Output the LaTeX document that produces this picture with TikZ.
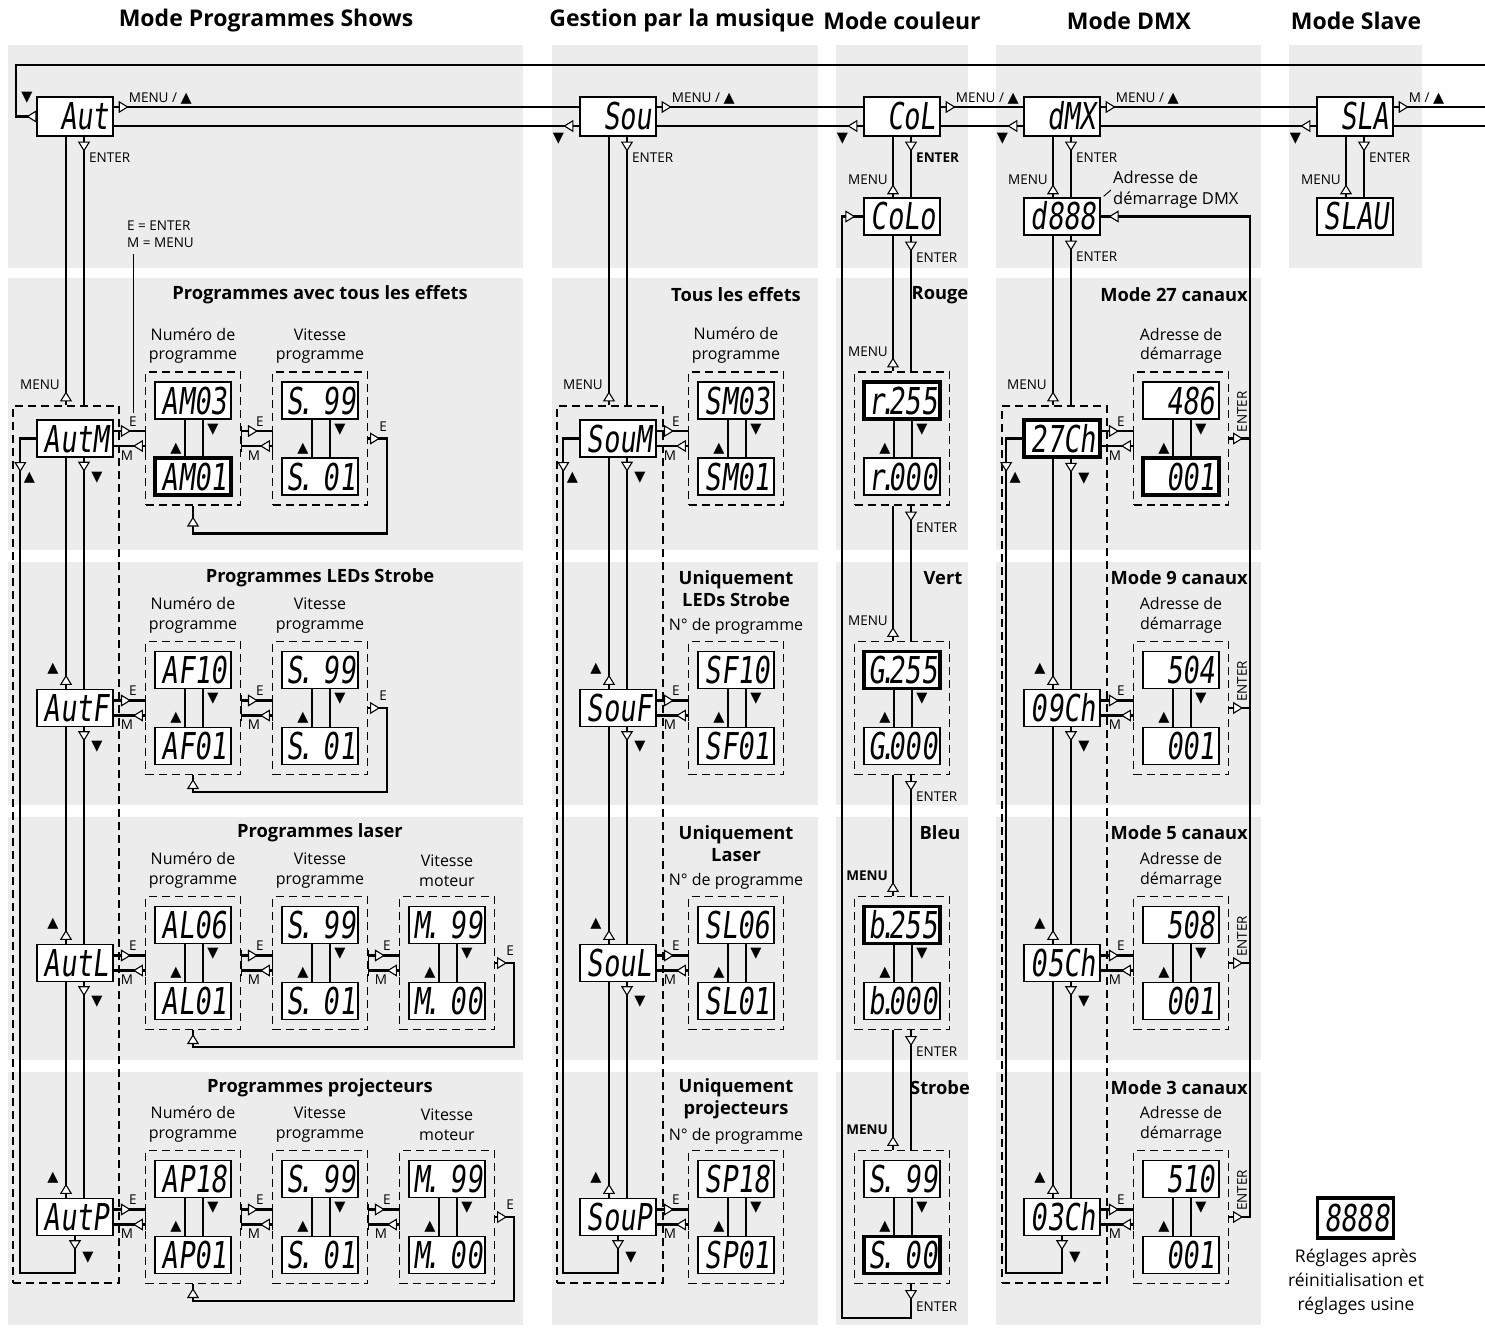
\documentclass[tikz,border=0pt]{standalone}
\usepackage{fontspec}
\setmainfont{Open Sans}
\newfontfamily\segfont{DejaVu Sans Mono}[FakeStretch=0.73,FakeSlant=0.12]
\newfontfamily\symfont{DejaVu Sans}
\usetikzlibrary{arrows.meta,decorations.markings,calc}
\definecolor{panel}{RGB}{236,236,236}
\newcommand\up{{\symfont\fontsize{14.5}{14.5}\selectfont ▲}}
\newcommand\dn{{\symfont\fontsize{14.5}{14.5}\selectfont ▼}}
\newcommand\dt{\rlap{\kern-.13em.}\kern.12em}
\newcommand\blnk{\phantom{0}}
\tikzset{
  ot/.tip={Triangle[width=12pt,length=10pt,fill=white,line width=1.1pt]},
  ar/.style={postaction={decorate,decoration={markings,mark=at position #1 with {\arrow{ot}}}}},
  arr/.style={postaction={decorate,decoration={markings,mark=at position #1 with {\arrowreversed{ot}}}}},
  wire/.style={line width=2.2pt},
  thinl/.style={line width=0.9pt},
  grp/.style={draw, line width=1.1pt, dash pattern=on 8pt off 5pt, minimum width=95pt, minimum height=133pt, inner sep=0pt},
  disp/.style={draw, fill=white, line width=1.3pt, minimum width=76pt, minimum height=37pt, inner xsep=4pt, inner ysep=5pt, text width=68pt, align=right, text height=27pt, text depth=0pt, font=\segfont\fontsize{37}{37}\selectfont},
  tdisp/.style={disp, line width=3.6pt},
  hd/.style={font=\bfseries\fontsize{23}{23}\selectfont, inner sep=0pt},
  ttl/.style={font=\bfseries\fontsize{18.3}{22}\selectfont, inner sep=0pt, align=center},
  sub/.style={font=\fontsize{16}{19.5}\selectfont, inner sep=0pt, align=center},
  sm/.style={font=\fontsize{13.5}{17}\selectfont, inner sep=0pt},
  smb/.style={font=\bfseries\fontsize{13.5}{17}\selectfont, inner sep=0pt},
  mk/.style={inner sep=0pt},
}
% a pair of displays inside a dashed group
\newcommand\pair[7]{%
  \node[grp] (#1) at (#2,#3) {};
  \node[#6] (#1t) at (#2,#3-38) {#4};
  \node[#7] (#1b) at (#2,#3+38) {#5};
  \draw[wire] ($(#1t.south)+(-8,0)$) -- ($(#1b.north)+(-8,0)$);
  \draw[wire] ($(#1t.south)+(10,0)$) -- ($(#1b.north)+(10,0)$);
  \node[mk] (#1u) at (#2-17,#3+10) {\up};
  \node[mk] (#1d) at (#2+20,#3-9) {\dn};
}
% E / M connectors
\newcommand\emc[2]{%
  \draw[wire,ar=-14pt] ($(#1.east)+(0,-7.5)$) -- ($(#2.west)+(0,-7.5)$);
  \draw[wire,ar=12pt] ($(#2.west)+(0,7.5)$) -- ($(#1.east)+(0,7.5)$);
  \draw[thinl] ($(#2.west)+(0,-13)$) -- ($(#2.west)+(0,13)$);
  \draw[thinl] ($(#1.east)+(0,-13)$) -- ($(#1.east)+(0,13)$);
  \node[sm] (#1E) at ($(#2.west)+(-12,-17)$) {E};
  \node[sm] (#1M) at ($(#2.west)+(-18,17)$) {M};
}
% last E back to first group
\newcommand\eloop[4]{%
  \coordinate (#1c) at ($(#1.east)+(19,#3)$);
  \draw[wire,ar=12pt,ar=#4] (#1.east) -- ($(#1.east)+(19,0)$) -- (#1c) -- (#1c -| #2.south) -- (#2.south);
  \node[sm] (#1E2) at ($(#1.east)+(15,-12)$) {E};
}
% vertical pair between main boxes
\newcommand\vpair[2]{%
  \draw[wire,ar=14pt] ($(#1.south)+(9,0)$) -- ($(#2.north)+(9,0)$);
  \draw[wire,ar=14pt] ($(#2.north)+(-9,0)$) -- ($(#1.south)+(-9,0)$);
  \node[mk] (#1dn) at ($(#1.south)+(22,20)$) {\dn};
  \node[mk] (#2up) at ($(#2.north)+(-22,-20)$) {\up};
}
% outer loop of a column
\newcommand\bloop[2]{%
  \coordinate (#1L) at ($(#1.west)+(-16,0)$);
  \coordinate (#2B) at ($(#2.south)+(0,37)$);
  \draw[wire,ar=14pt,arr=-49.5pt] (#2.south) -- (#2B) -- (#2B -| #1L) -- (#1L) -- (#1.west);
  \node[mk] (#1lu) at ($(#1L)+(9,39)$) {\up};
  \node[mk] (#2bd) at ($(#2.south)+(13,22)$) {\dn};
}
\begin{document}
\begin{tikzpicture}[x=1pt,y=-1pt]
\useasboundingbox (0,0) rectangle (1485,1332);
% panels
\foreach \xa/\xb in {8/523,552/818,836/968,996/1261}{
  \foreach \ya/\yb in {45/268,278/550,562/805,817/1060,1072/1325}{
    \fill[panel] (\xa,\ya) rectangle (\xb,\yb);}}
\fill[panel] (1289,45) rectangle (1422,268);
% headers
\node[hd] (h1) at (266,21) {Mode Programmes Shows};
\node[hd] (h2) at (682,21) {Gestion par la musique};
\node[hd] (h3) at (902,21) {Mode couleur};
\node[hd] (h4) at (1129,21) {Mode DMX};
\node[hd] (h5) at (1356,21) {Mode Slave};
% top row
\node[disp,minimum height=39pt] (Aut) at (75,116.5) {Aut};
\node[disp,minimum height=39pt] (Sou) at (618,116.5) {Sou};
\node[disp,minimum height=39pt] (CoL) at (902,116.5) {CoL};
\node[disp,minimum height=39pt] (dMX) at (1062,116.5) {dMX};
\node[disp,minimum height=39pt] (SLA) at (1355,116.5) {SLA};
\foreach \a/\b in {Aut/Sou,Sou/CoL,CoL/dMX,dMX/SLA}{
  \draw[wire,ar=15pt] ($(\a.east)+(0,-9.5)$) -- ($(\b.west)+(0,-9.5)$);
  \draw[wire,ar=16pt] ($(\b.west)+(0,9.5)$) -- ($(\a.east)+(0,9.5)$);
}
\coordinate (lt1) at (16,116.5); \coordinate (lt2) at (16,65); \coordinate (rt1) at (1485,65);
\draw[wire,ar=10pt] (Aut.west) -- (lt1) -- (lt2) -- (rt1);
\coordinate (ru) at (1485,107); \coordinate (rd) at (1485,126);
\draw[wire,ar=15pt] ($(SLA.east)+(0,-9.5)$) -- (ru);
\draw[wire] (rd) -- ($(SLA.east)+(0,9.5)$);
\foreach \n in {Aut,Sou,CoL,dMX}{\node[sm,anchor=west] (ml\n) at ($(\n.east)+(15,-18)$) {MENU / \up};}
\node[sm,anchor=west] (mlSLA) at ($(SLA.east)+(15,-18)$) {M / \up};
\foreach \n in {Sou,CoL,dMX,SLA}{\node[mk] (dl\n) at ($(\n.west)+(-21,22)$) {\dn};}
\node[mk] (dlAut) at (27,98) {\dn};
% second level
\node[disp] (CoLo) at (902,216.5) {CoLo};
\node[disp] (d888) at (1062,216.5) {d888};
\node[disp] (SLAU) at (1355,216.5) {SLAU};
\foreach \a/\b in {CoL/CoLo,dMX/d888,SLA/SLAU}{
  \draw[wire,ar=15pt] ($(\a.south)+(9,0)$) -- ($(\b.north)+(9,0)$);
  \draw[wire,ar=13pt] ($(\b.north)+(-9,0)$) -- ($(\a.south)+(-9,0)$);
  \node[sm,anchor=east] (mm\b) at ($(\b.north)+(-14,-18)$) {MENU};
}
\node[smb,anchor=west] (eCoL) at ($(CoL.south)+(14,21)$) {ENTER};
\node[sm,anchor=west] (edMX) at ($(dMX.south)+(14,21)$) {ENTER};
\node[sm,anchor=west] (eSLA) at ($(SLA.south)+(14,21)$) {ENTER};
% dashed main groups
\node[grp,minimum width=106pt,minimum height=877pt] (G1) at (66,844.5) {};
\node[grp,minimum width=106pt,minimum height=877pt] (G2) at (610,844.5) {};
\node[grp,minimum width=105pt,minimum height=877pt] (G4) at (1054.5,844.5) {};
\foreach \t/\g in {Aut/G1,Sou/G2,d888/G4}{
  \coordinate (\t-a) at ($(\t.south)+(9,0)$);
  \coordinate (\t-b) at ($(\t.south)+(-9,0)$);
  \coordinate (\t-c) at (\t-b |- \g.north);
  \draw[wire,ar=15pt] (\t-a) -- (\t-a |- \g.north);
  \draw[wire,ar=14pt] (\t-c) -- (\t-b);
  \node[sm,anchor=west] (e\t) at ($(\t.south)+(14,21.5)$) {ENTER};
  \node[sm,anchor=east] (m\t) at ($(\t-c)+(-6,-21)$) {MENU};
}
% main boxes
\node[disp] (AutM) at (75,438.5) {AutM};
\node[disp] (AutF) at (75,708) {AutF};
\node[disp] (AutL) at (75,963) {AutL};
\node[disp] (AutP) at (75,1217) {AutP};
\node[disp] (SouM) at (618,438.5) {SouM};
\node[disp] (SouF) at (618,708) {SouF};
\node[disp] (SouL) at (618,963) {SouL};
\node[disp] (SouP) at (618,1217) {SouP};
\node[tdisp] (C27) at (1062,438.5) {27Ch};
\node[disp] (C09) at (1062,708) {09Ch};
\node[disp] (C05) at (1062,963) {05Ch};
\node[disp] (C03) at (1062,1217) {03Ch};
\vpair{AutM}{AutF}\vpair{AutF}{AutL}\vpair{AutL}{AutP}\bloop{AutM}{AutP}
\vpair{SouM}{SouF}\vpair{SouF}{SouL}\vpair{SouL}{SouP}\bloop{SouM}{SouP}
\vpair{C27}{C09}\vpair{C09}{C05}\vpair{C05}{C03}\bloop{C27}{C03}
% column 1 sub groups
\pair{ga1}{193}{438.5}{AM03}{AM01}{disp}{tdisp}
\pair{ga2}{320}{438.5}{S\dt\blnk99}{S\dt\blnk01}{disp}{disp}
\pair{gb1}{193}{708}{AF10}{AF01}{disp}{disp}
\pair{gb2}{320}{708}{S\dt\blnk99}{S\dt\blnk01}{disp}{disp}
\pair{gc1}{193}{963}{AL06}{AL01}{disp}{disp}
\pair{gc2}{320}{963}{S\dt\blnk99}{S\dt\blnk01}{disp}{disp}
\pair{gc3}{447}{963}{M\dt\blnk99}{M\dt\blnk00}{disp}{disp}
\pair{gd1}{193}{1217}{AP18}{AP01}{disp}{disp}
\pair{gd2}{320}{1217}{S\dt\blnk99}{S\dt\blnk01}{disp}{disp}
\pair{gd3}{447}{1217}{M\dt\blnk99}{M\dt\blnk00}{disp}{disp}
\emc{AutM}{ga1}\emc{ga1}{ga2}\eloop{ga2}{ga1}{95}{-11pt}
\emc{AutF}{gb1}\emc{gb1}{gb2}\eloop{gb2}{gb1}{84}{-4pt}
\emc{AutL}{gc1}\emc{gc1}{gc2}\emc{gc2}{gc3}\eloop{gc3}{gc1}{84}{-4pt}
\emc{AutP}{gd1}\emc{gd1}{gd2}\emc{gd2}{gd3}\eloop{gd3}{gd1}{84}{-4pt}
\node[ttl] (ta) at (320,295) {Programmes avec tous les effets};
\node[ttl] (tb) at (320,578) {Programmes LEDs Strobe};
\node[ttl] (tc) at (320,833) {Programmes laser};
\node[ttl] (td) at (320,1088) {Programmes projecteurs};
\foreach \r/\C in {a/438.5,b/708,c/963,d/1217}{
  \node[sub] (n\r1) at (193,\C-92.5) {Numéro de\\programme};
  \node[sub] (n\r2) at (320,\C-92.5) {Vitesse\\programme};
}
\node[sub] (nc3) at (447,870.5) {Vitesse\\moteur};
\node[sub] (nd3) at (447,1124.5) {Vitesse\\moteur};
\node[sm,anchor=west,align=left] (EM) at (127,234.5) {E = ENTER\\M = MENU};
\coordinate (EMa) at (133,254); \coordinate (EMb) at (133,413);
\draw[thinl] (EMa) -- (EMb);
% column 2 sub groups
\pair{h1}{736}{438.5}{SM03}{SM01}{disp}{disp}
\pair{h2}{736}{708}{SF10}{SF01}{disp}{disp}
\pair{h3}{736}{963}{SL06}{SL01}{disp}{disp}
\pair{h4}{736}{1217}{SP18}{SP01}{disp}{disp}
\emc{SouM}{h1}\emc{SouF}{h2}\emc{SouL}{h3}\emc{SouP}{h4}
\node[ttl] (ua) at (736,295) {Tous les effets};
\node[sub] (va) at (736,345.5) {Numéro de\\programme};
\node[ttl] (ub) at (736,589) {Uniquement\\LEDs Strobe};
\node[sub] (vb) at (736,626) {N° de programme};
\node[ttl] (uc) at (736,844) {Uniquement\\Laser};
\node[sub] (vc) at (736,881) {N° de programme};
\node[ttl] (ud) at (736,1099) {Uniquement\\projecteurs};
\node[sub] (vd) at (736,1136) {N° de programme};
% column 3
\pair{c1}{902}{438.5}{r\dt255}{r\dt000}{tdisp}{disp}
\pair{c2}{902}{708}{G\dt255}{G\dt000}{tdisp}{disp}
\pair{c3}{902}{963}{b\dt255}{b\dt000}{tdisp}{disp}
\pair{c4}{902}{1217}{S\dt\blnk99}{S\dt\blnk00}{disp}{tdisp}
\draw[wire,ar=16pt] ($(CoLo.south)+(9,0)$) -- ($(c1.north)+(9,0)$);
\draw[wire,ar=14pt] ($(c1.north)+(-9,0)$) -- ($(CoLo.south)+(-9,0)$);
\node[sm,anchor=west] (eCoLo) at ($(CoLo.south)+(14,22)$) {ENTER};
\node[sm,anchor=east] (mc1) at ($(c1.north)+(-14,-20)$) {MENU};
\foreach \a/\b/\f in {c1/c2/sm,c2/c3/smb,c3/c4/smb}{
  \draw[wire,ar=16pt] ($(\a.south)+(9,0)$) -- ($(\b.north)+(9,0)$);
  \draw[wire,ar=14pt] ($(\b.north)+(-9,0)$) -- ($(\a.south)+(-9,0)$);
  \node[sm,anchor=west] (e\a) at ($(\a.south)+(14,22)$) {ENTER};
  \node[\f,anchor=east] (m\b) at ($(\b.north)+(-14,-20)$) {MENU};
}
\coordinate (cL) at (842,1318);
\coordinate (c4x) at ($(c4.south)+(9,0)$);
\draw[wire,ar=16pt,ar=-8pt] (c4x) -- (c4x |- cL) -- (cL) -- (cL |- CoLo.west) -- (CoLo.west);
\node[sm,anchor=west] (ec4) at ($(c4.south)+(14,23)$) {ENTER};
\node[ttl] (ra) at (940,295) {Rouge};
\node[ttl] (rb) at (943,578) {Vert};
\node[ttl] (rc) at (940,833) {Bleu};
\node[ttl] (rd) at (940,1088) {Strobe};
% column 4
\pair{D1}{1181}{438.5}{486}{001}{disp}{tdisp}
\pair{D2}{1181}{708}{504}{001}{disp}{disp}
\pair{D3}{1181}{963}{508}{001}{disp}{disp}
\pair{D4}{1181}{1217}{510}{001}{disp}{disp}
\emc{C27}{D1}\emc{C09}{D2}\emc{C05}{D3}\emc{C03}{D4}
\coordinate (Rt) at (1250,216.5);
\foreach \d in {D1,D2,D3}{\draw[wire,ar=14pt] (\d.east) -- (\d.east -| Rt);}
\draw[wire,ar=14pt,ar=-8pt] (D4.east) -- (D4.east -| Rt) -- (Rt) -- (d888.east);
\foreach \d in {D1,D2,D3,D4}{\node[sm,rotate=90,anchor=west] (e\d) at ($(\d.east)+(13,-6)$) {ENTER};}
\node[ttl,anchor=east] (wa) at (1248,295) {Mode 27 canaux};
\node[ttl,anchor=east] (wb) at (1248,578) {Mode 9 canaux};
\node[ttl,anchor=east] (wc) at (1248,833) {Mode 5 canaux};
\node[ttl,anchor=east] (wd) at (1248,1088) {Mode 3 canaux};
\foreach \r/\C in {a/438.5,b/708,c/963,d/1217}{
  \node[sub] (x\r) at (1181,\C-92.5) {Adresse de\\démarrage};
}
\node[sub,anchor=west,align=left,font=\fontsize{16.5}{21}\selectfont] (adl) at (1113,190) {Adresse de\\démarrage DMX};
\draw[thinl] ($(d888.north east)+(3,-1)$) -- ($(adl.west)+(-2,0)$);
% legend
\node[tdisp,minimum height=40pt] (ref) at (1355.5,1218) {8888};
\node[sub,font=\fontsize{17.5}{24}\selectfont] (reft) at (1356,1282) {Réglages après\\réinitialisation et\\réglages usine};
\end{tikzpicture}
\end{document}
